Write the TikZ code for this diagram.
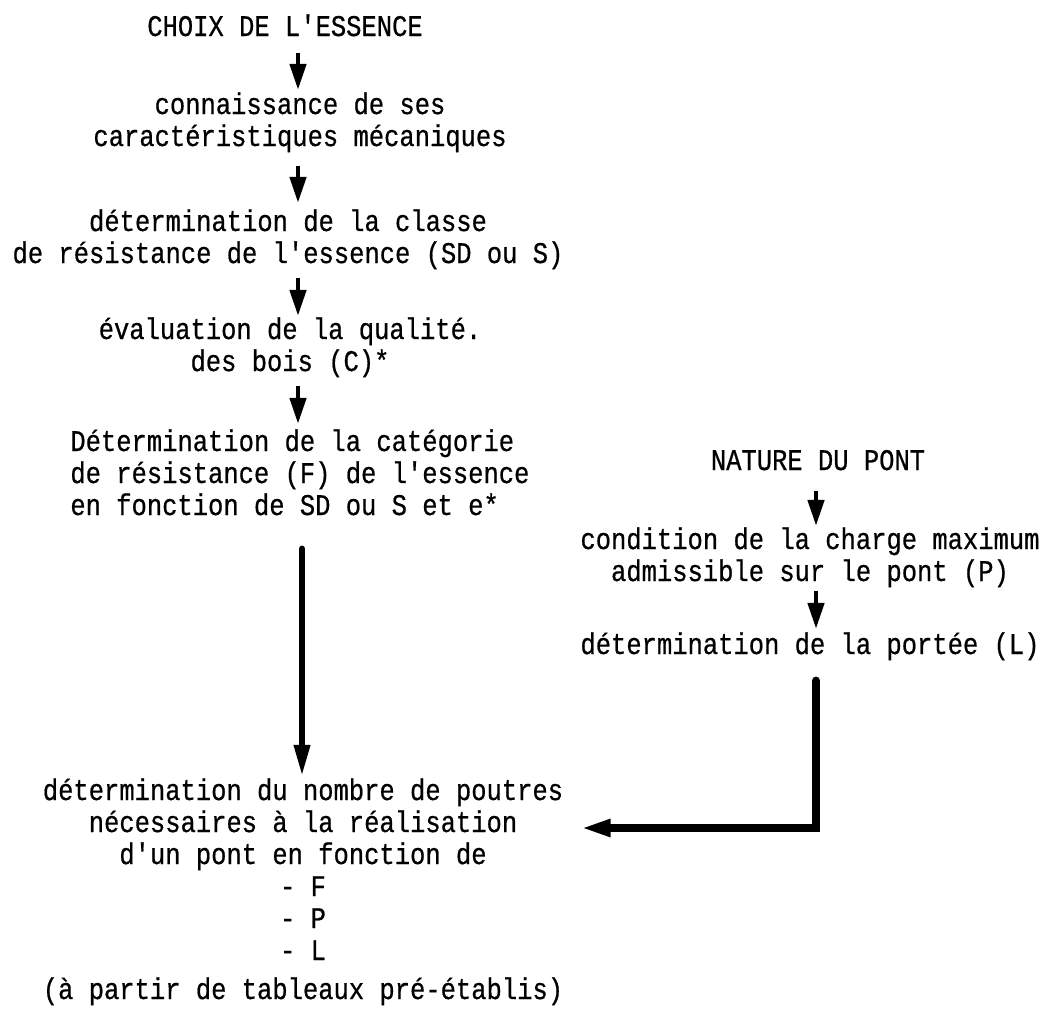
\documentclass[tikz,border=0pt]{standalone}
\usepackage{fontspec}
\newfontfamily\printfont[FakeStretch=0.85,FakeBold=0.6]{Liberation Mono}
\usetikzlibrary{arrows.meta}

\tikzset{every picture/.style={line width=0.75pt}}
\tikzset{
  txt/.style={inner sep=0pt, anchor=base, align=center, font=\printfont\fontsize{30}{32}\selectfont},
  flow/.style={line width=4.5pt, -{Triangle[length=26pt,width=16pt]}},
  bigflow/.style={line width=6.5pt, line cap=round, -{Triangle[length=32pt,width=15pt]}},
  elbow/.style={line width=8pt, line cap=round, -{Triangle[length=30pt,width=16pt]}},
}

\begin{document}
\begin{tikzpicture}[x=1pt,y=1pt,yscale=-1]
    \useasboundingbox (0,0) rectangle (1043,1010);
    \coordinate (axis) at (298,0);
    \coordinate (axisb) at (302,0);
    \coordinate (axisr) at (816,0);
    \coordinate (bend) at (816,828);

    % Text Node (base = baseline of the last line)
    \node [txt] (choix) at (285,36) {CHOIX DE L'ESSENCE};
    % Text Node
    \node [txt] (conn) at (300,146) {connaissance de ses\\caractéristiques mécaniques};
    % Text Node
    \node [txt] (classe) at (288,263) {détermination de la classe\\de résistance de l'essence (SD ou S)};
    % Text Node
    \node [txt] (eval) at (290,371) {évaluation de la qualité.\\des bois (C)*};
    % Text Node
    \node [txt, anchor=base west, align=left] (categ) at (70,515) {Détermination de la catégorie\\de résistance (F) de l'essence\\en fonction de SD ou S et e*};
    % Text Node
    \node [txt] (nature) at (818,470) {NATURE DU PONT};
    % Text Node
    \node [txt] (charge) at (810,581) {condition de la charge maximum\\admissible sur le pont (P)};
    % Text Node
    \node [txt] (portee) at (810,654) {détermination de la portée (L)};
    % Text Node
    \node [txt] (nombre) at (303,960) {détermination du nombre de poutres\\nécessaires à la réalisation\\d'un pont en fonction de\\- F\\- P\\- L};
    % Text Node
    \node [txt] (tableaux) at (303,999) {(à partir de tableaux pré-établis)};

    %Straight Lines
    \draw [flow, shorten <=16pt, shorten >=2pt] (choix.south -| axis) -- (conn.north -| axis);
    \draw [flow, shorten <=13pt, shorten >=6pt] (conn.south -| axis) -- (classe.north -| axis);
    \draw [flow, shorten <=8pt, shorten >=1pt] (classe.south -| axis) -- (eval.north -| axis);
    \draw [flow, shorten <=8pt, shorten >=5pt] (eval.south -| axis) -- (categ.north -| axis);
    \draw [bigflow, shorten <=33pt, shorten >=1pt] (categ.south -| axisb) -- (nombre.north -| axisb);
    \draw [flow, shorten <=20pt, shorten >=1pt] (nature.south -| axisr) -- (charge.north -| axisr);
    \draw [flow, shorten <=3pt, shorten >=3pt] (charge.south -| axisr) -- (portee.north -| axisr);
    %Elbow Line
    \draw [elbow, shorten <=20pt, shorten >=17pt] (portee.south -| bend) -- (bend) -- (nombre.east |- bend);

\end{tikzpicture}
\end{document}
